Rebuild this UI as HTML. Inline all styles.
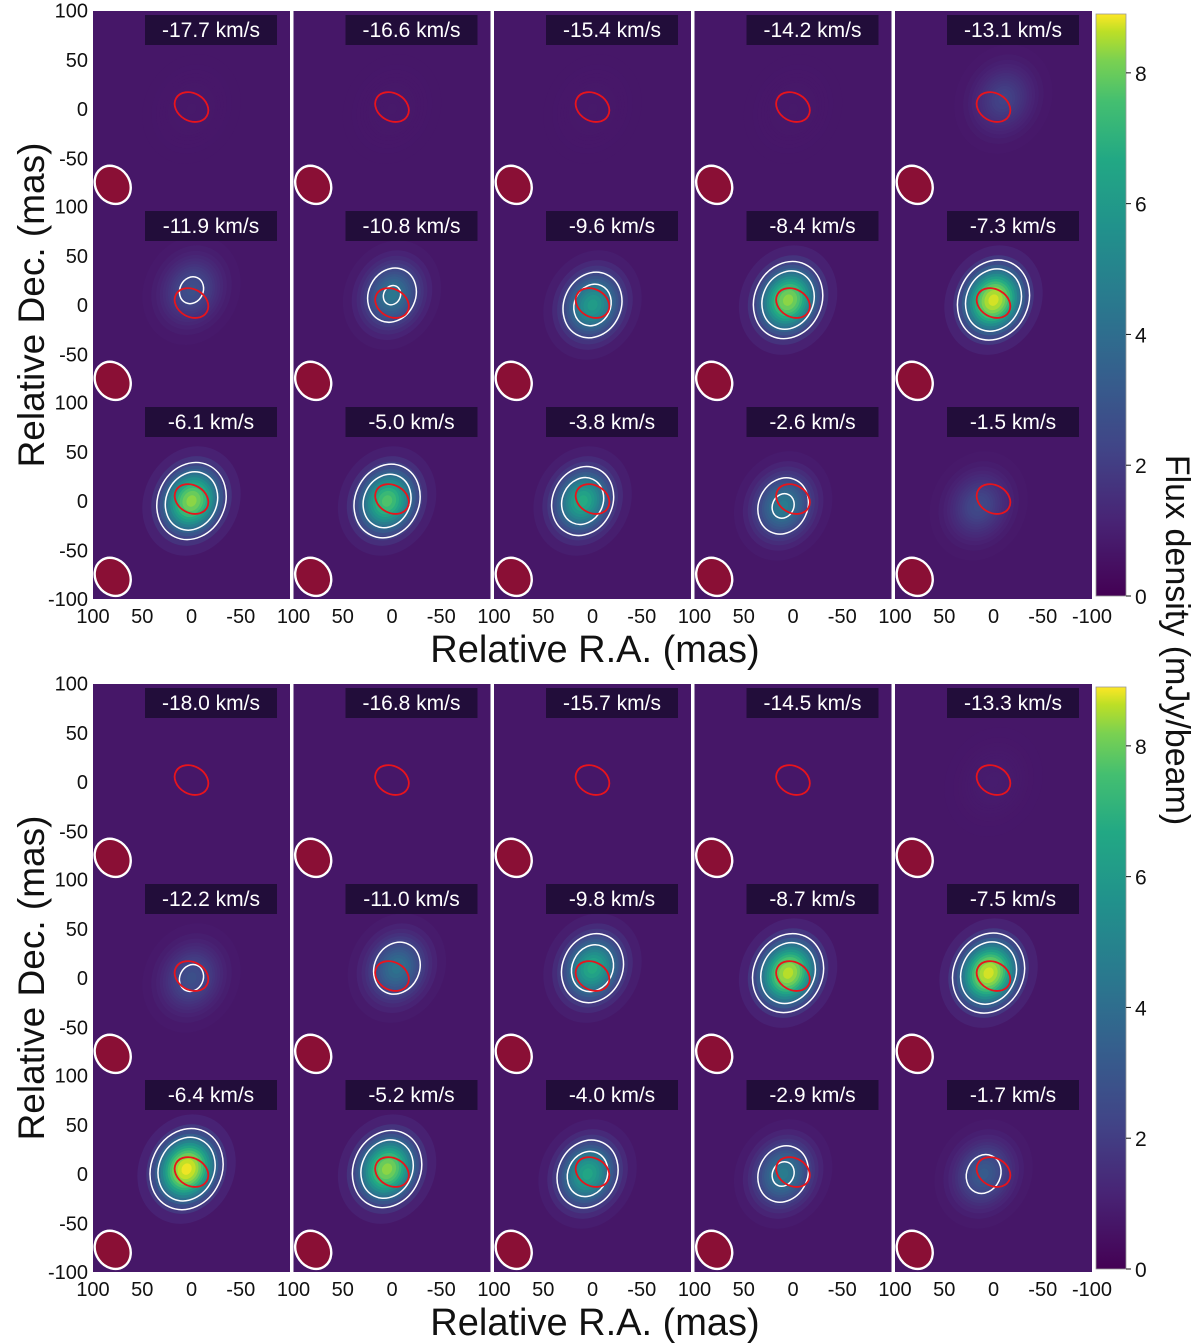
<!DOCTYPE html>
<html><head><meta charset="utf-8"><style>
html,body{margin:0;padding:0;background:#fff;}
svg{display:block;font-family:"Liberation Sans","DejaVu Sans",sans-serif;}
</style></head><body>
<svg id="fig" width="1200" height="1344" viewBox="0 0 1200 1344" xmlns="http://www.w3.org/2000/svg">
<defs>
<linearGradient id="vir" x1="0" y1="1" x2="0" y2="0">
<stop offset="0" stop-color="#440154"/><stop offset="0.13" stop-color="#482475"/><stop offset="0.25" stop-color="#414487"/><stop offset="0.38" stop-color="#355f8d"/><stop offset="0.5" stop-color="#2a788e"/><stop offset="0.63" stop-color="#21918c"/><stop offset="0.75" stop-color="#22a884"/><stop offset="0.85" stop-color="#44bf70"/><stop offset="0.92" stop-color="#7ad151"/><stop offset="0.97" stop-color="#bddf26"/><stop offset="1" stop-color="#fde725"/>
</linearGradient>
</defs>
</svg>
<script>
// ---- data ----
const velTop = ["-17.7","-16.6","-15.4","-14.2","-13.1","-11.9","-10.8","-9.6","-8.4","-7.3","-6.1","-5.0","-3.8","-2.6","-1.5"];
const peakTop = [0.6,0.6,0.6,0.6,1.8,2.2,3.6,5.0,7.6,8.6,7.6,6.6,5.6,3.8,2.0];
const dxTop = [0,0,0,0,-10,0,0,0,5,0,0,5,10,10,15];
const dyTop = [0,0,0,0,10,15,10,0,5,5,0,0,0,-5,-5];
const velBot = ["-18.0","-16.8","-15.7","-14.5","-13.3","-12.2","-11.0","-9.8","-8.7","-7.5","-6.4","-5.2","-4.0","-2.9","-1.7"];
const peakBot = [0.5,0.5,0.5,0.5,0.7,2.2,3.4,5.6,8.2,8.6,9.0,7.6,5.4,3.8,2.6];
const dxBot = [0,0,0,0,0,0,-5,0,5,5,5,5,5,10,10];
const dyBot = [0,0,0,0,0,0,10,10,5,5,5,5,0,0,0];
const cbTicks = [0,2,4,6,8];
const axTicks = [100,50,0,-50];
const CMAX = 8.9;

const S = document.getElementById('fig');
const NS = "http://www.w3.org/2000/svg";
function mk(t, a, p){ const e=document.createElementNS(NS,t); for(const k in a) e.setAttribute(k,a[k]); (p||S).appendChild(e); return e; }

const vstops=[[68,1,84],[72,36,117],[65,68,135],[53,95,141],[42,120,142],[33,145,140],[34,168,132],[68,191,112],[122,209,81],[189,223,38],[253,231,37]];
function vir(t){ t=Math.max(0,Math.min(1,t)); const f=t*10, i=Math.min(9,Math.floor(f)), r=f-i; const a=vstops[i], b=vstops[i+1];
  return `rgb(${Math.round(a[0]+(b[0]-a[0])*r)},${Math.round(a[1]+(b[1]-a[1])*r)},${Math.round(a[2]+(b[2]-a[2])*r)})`; }

const PX0 = 93, PSTEP = 200.5, PW = 197, PH = 196;
const SIG = 17, BG = 0.55;
function panel(px, py, vel, peak, dx, dy, idx){
  const g = mk('g', {});
  
  
  const sc = PW/200;
  const X = m => px + PW/2 - m*sc;
  const Y = m => py + PH/2 - m*sc;
  const cp = 'cp'+idx;
  const c = mk('clipPath', {id:cp}, g); mk('rect',{x:px,y:py,width:PW,height:PH},c);
  const inner = mk('g', {'clip-path':`url(#${cp})`}, g);
  const bg = mk('rect', {x:px,y:py,width:PW,height:PH,fill:vir(BG/CMAX)}, inner);
  
  const cx = X(dx), cy = Y(dy);
  if (peak > BG){
    const N=14;
    for(let k=0;k<N;k++){
      const L = BG + (peak-BG)*(k+0.5)/N;
      const r = SIG*Math.sqrt(2*Math.log((peak-BG)/(L-BG)));
      const e = mk('ellipse',{cx,cy,rx:r*sc*1.1,ry:r*sc*1.3,fill:vir(L/CMAX),transform:`rotate(25 ${cx} ${cy})`}, inner);
      
    }
    [1.9,3.3].forEach(lv=>{
      if(peak>lv+0.1){
        const r = SIG*Math.sqrt(2*Math.log((peak-BG)/(lv-BG)));
        const e = mk('ellipse',{cx,cy,rx:r*sc*1.1,ry:r*sc*1.3,fill:'none',stroke:'#fff','stroke-width':1.5,transform:`rotate(25 ${cx} ${cy})`}, inner);
        
      }
    });
  }
  const red = mk('ellipse',{cx:X(0),cy:Y(2),rx:18*sc,ry:14*sc,fill:'none',stroke:'#e8141c','stroke-width':1.8,transform:`rotate(30 ${X(0)} ${Y(2)})`}, inner);
  
  const bx=X(80), by=Y(-77);
  const beam = mk('ellipse',{cx:bx,cy:by,rx:17,ry:20,fill:'#8a0f35',stroke:'#fff','stroke-width':2.4,transform:`rotate(-35 ${bx} ${by})`}, inner);
  
  const lb = mk('rect',{x:px+52,y:py+4,width:132,height:30,fill:'#1c0c33','fill-opacity':0.85}, inner);
  
  const t = mk('text',{x:px+118,y:py+26,'font-size':21,fill:'#fff','text-anchor':'middle'}, inner);
  t.textContent = vel+' km/s';
  
  
}

function block(y0, vels, peaks, dxs, dys, tag){
  for(let r=0;r<3;r++) for(let c=0;c<5;c++){
    const i=r*5+c;
    panel(PX0+c*PSTEP, y0+r*PH, vels[i], peaks[i], dxs[i], dys[i], tag+i);
  }
  for(let r=0;r<3;r++){
    const yt = y0 + r*PH;
    [100,50,0,-50].forEach(v=>{
      const t = mk('text',{x:88,y:yt+PH/2 - v*PW/200 + 7,'font-size':20,'text-anchor':'end',fill:'#111'});
      t.textContent=v;  
    });
  }
  const tb = mk('text',{x:88,y:y0+3*PH+7,'font-size':20,'text-anchor':'end',fill:'#111'});
  tb.textContent='-100';  
  const yb = y0+3*PH+24;
  for(let c=0;c<5;c++){
    const px = PX0+c*PSTEP;
    axTicks.forEach(v=>{
      const t = mk('text',{x:px+PW/2 - v*PW/200,y:yb,'font-size':20,'text-anchor':'middle',fill:'#111'});
      t.textContent=v;  
    });
  }
  const te = mk('text',{x:PX0+4*PSTEP+PW,y:yb,'font-size':20,'text-anchor':'middle',fill:'#111'});
  te.textContent='-100';  
  const xt = mk('text',{x:595,y:y0+3*PH+63,'font-size':38,'text-anchor':'middle',fill:'#111'});
  xt.textContent='Relative R.A. (mas)';  
  const ym = y0+1.5*PH;
  const yt = mk('text',{x:0,y:0,'font-size':37,'text-anchor':'middle',fill:'#111',transform:`translate(44 ${ym}) rotate(-90)`});
  yt.textContent='Relative Dec. (mas)';  
  const cbx=1096, cbw=30, cbh=3*PH-6;
  const cbTop=y0+3;
  const cb = mk('rect',{x:cbx,y:cbTop,width:cbw,height:cbh,fill:'url(#vir)',stroke:'#999','stroke-width':0.8});
   
  cbTicks.forEach(v=>{
    const yy = cbTop+cbh - v/CMAX*cbh;
    mk('line',{x1:cbx+cbw,x2:cbx+cbw+5,y1:yy,y2:yy,stroke:'#111','stroke-width':1});
    const t = mk('text',{x:cbx+cbw+9,y:yy+8,'font-size':21,fill:'#111'});
    t.textContent=v;  
  });
}
block(11, velTop, peakTop, dxTop, dyTop, 't');
block(684, velBot, peakBot, dxBot, dyBot, 'b');
const cl = mk('text',{x:0,y:0,'font-size':34,'text-anchor':'middle',fill:'#111',transform:'translate(1166 640) rotate(90)'});
cl.textContent='Flux density (mJy/beam)';


</script>
</body></html>
